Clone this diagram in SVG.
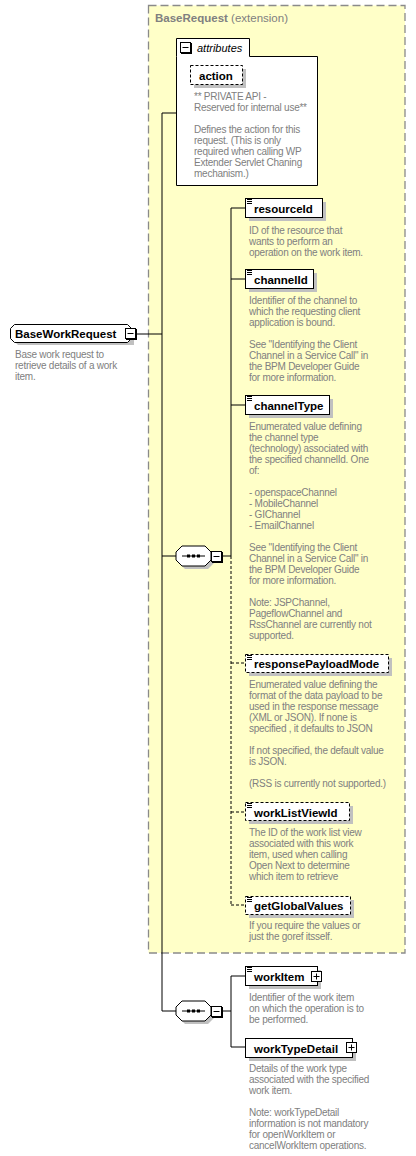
<svg xmlns="http://www.w3.org/2000/svg" width="416" height="1156" viewBox="0 0 416 1156">
<style>
.bg{fill:#ffffff}
.ext{fill:#ffffc8;stroke:#8a8a8a;stroke-width:1.3;stroke-dasharray:8,4}
.box{fill:#ffffff;stroke:#000;stroke-width:1}
.dbox{fill:#ffffff;stroke:#000;stroke-width:1;stroke-dasharray:3,2}
.sh{fill:#c0c0c0}
.ln{fill:none;stroke:#000;stroke-width:1}
.dl{fill:none;stroke:#000;stroke-width:1;stroke-dasharray:3,2}
.nm{font-family:"Liberation Sans",Arial,sans-serif;font-weight:bold;font-size:11.5px;fill:#000}
.ds{font-family:"Liberation Sans",Arial,sans-serif;font-size:10px;letter-spacing:-0.25px;fill:#808080}
.ttl{font-family:"Liberation Sans",Arial,sans-serif;font-size:11.5px;fill:#808080}
.it{font-family:"Liberation Sans",Arial,sans-serif;font-style:italic;font-size:11px;fill:#000}
</style>
<defs>
<g id="lines3"><path d="M0,0.5H5M0,2.5H5M0,4.5H5" stroke="#000" stroke-width="1" fill="none"/></g>
<g id="minus"><rect x="1" y="1" width="11" height="11" fill="#000"/><rect x="0.5" y="0.5" width="10" height="10" fill="#fff" stroke="#000"/><path d="M2.5,5.5H8.5" stroke="#000"/></g>
<g id="plus"><rect x="0.5" y="0.5" width="10" height="10" fill="#fff" stroke="#000"/><path d="M2.5,5.5H8.5M5.5,2.5V8.5" stroke="#000"/></g>
<g id="seq">
<polygon points="9,3 32,3 38,9 38,17 32,23 9,23 3,17 3,9" class="sh"/>
<polygon points="6,0 29,0 35,6 35,14 29,20 6,20 0,14 0,6" fill="#fff" stroke="#000"/>
<path d="M6,10H29" stroke="#000"/>
<rect x="11" y="8.5" width="3" height="3" fill="#000"/><rect x="16" y="8.5" width="3" height="3" fill="#000"/><rect x="21" y="8.5" width="3" height="3" fill="#000"/>
</g>
</defs>
<rect class="bg" x="0" y="0" width="416" height="1156"/>

<g id="extension">
<rect class="ext" x="148.5" y="5.5" width="256.5" height="947.5"/>
<text x="155" y="22" class="ttl"><tspan font-weight="bold">BaseRequest</tspan> (extension)</text>
</g>

<g id="connectors">
<path class="ln" d="M136,334H162M162,113V1011H176M162,113H176M162,556H176"/>
<path class="ln" d="M222,556H231M231,208V556M231,208H245M231,279H245M231,405H245"/>
<path class="dl" d="M231,556V905M231,663H245M231,812H245M231,905H245"/>
<path class="ln" d="M222,1011H231M231,976V1047M231,976H245M231,1047H245"/>
</g>

<g id="attributes">
<path d="M176.5,56.5V38.5H249.5V56.5H317.5V185.5H176.5Z" class="box"/>
<use href="#minus" x="180" y="42"/>
<text x="197" y="52" class="it">attributes</text>
</g>

<g id="action">
<rect class="sh" x="194" y="69" width="52" height="19"/>
<rect class="dbox" x="190.5" y="65.5" width="52" height="19"/>
<text x="199" y="79.5" class="nm">action</text>
<text class="ds" x="194" y="100"><tspan x="194">** PRIVATE API -</tspan><tspan x="194" dy="11">Reserved for internal use**</tspan><tspan x="194" dy="22">Defines the action for this</tspan><tspan x="194" dy="11">request. (This is only</tspan><tspan x="194" dy="11">required when calling WP</tspan><tspan x="194" dy="11">Extender Servlet Chaning</tspan><tspan x="194" dy="11">mechanism.)</tspan></text>
</g>

<g id="BaseWorkRequest">
<polygon class="sh" points="18,328 134,328 134,345 18,345 14,341 14,332"/>
<polygon points="14.5,324.5 127.5,324.5 131.5,328.5 131.5,338.5 127.5,342.5 14.5,342.5 10.5,338.5 10.5,328.5" fill="#fff" stroke="#000"/>
<text x="15" y="338" class="nm">BaseWorkRequest</text>
<use href="#minus" x="125" y="328"/>
<text class="ds" x="15" y="357.5"><tspan x="15">Base work request to</tspan><tspan x="15" dy="11">retrieve details of a work</tspan><tspan x="15" dy="11">item.</tspan></text>
</g>

<g id="sequence1">
<use href="#seq" x="176" y="546"/>
<use href="#minus" x="211" y="551"/>
</g>

<g id="resourceId">
<rect class="sh" x="249" y="202" width="77" height="19"/>
<rect class="box" x="245.5" y="198.5" width="77" height="19"/>
<use href="#lines3" x="247" y="199"/>
<text x="254" y="212.5" class="nm">resourceId</text>
<text class="ds" x="249" y="233.5"><tspan x="249">ID of the resource that</tspan><tspan x="249" dy="11">wants to perform an</tspan><tspan x="249" dy="11">operation on the work item.</tspan></text>
</g>

<g id="channelId">
<rect class="sh" x="249" y="273" width="68" height="19"/>
<rect class="box" x="245.5" y="269.5" width="68" height="19"/>
<use href="#lines3" x="247" y="270"/>
<text x="254" y="283.5" class="nm">channelId</text>
<text class="ds" x="249" y="304"><tspan x="249">Identifier of the channel to</tspan><tspan x="249" dy="11">which the requesting client</tspan><tspan x="249" dy="11">application is bound.</tspan><tspan x="249" dy="22">See "Identifying the Client</tspan><tspan x="249" dy="11">Channel in a Service Call" in</tspan><tspan x="249" dy="11">the BPM Developer Guide</tspan><tspan x="249" dy="11">for more information.</tspan></text>
</g>

<g id="channelType">
<rect class="sh" x="249" y="399" width="84" height="19"/>
<rect class="box" x="245.5" y="395.5" width="84" height="19"/>
<use href="#lines3" x="247" y="396"/>
<text x="254" y="409.5" class="nm">channelType</text>
<text class="ds" x="249" y="430"><tspan x="249">Enumerated value defining</tspan><tspan x="249" dy="11">the channel type</tspan><tspan x="249" dy="11">(technology) associated with</tspan><tspan x="249" dy="11">the specified channelId. One</tspan><tspan x="249" dy="11">of:</tspan><tspan x="249" dy="22">- openspaceChannel</tspan><tspan x="249" dy="11">- MobileChannel</tspan><tspan x="249" dy="11">- GIChannel</tspan><tspan x="249" dy="11">- EmailChannel</tspan><tspan x="249" dy="22">See "Identifying the Client</tspan><tspan x="249" dy="11">Channel in a Service Call" in</tspan><tspan x="249" dy="11">the BPM Developer Guide</tspan><tspan x="249" dy="11">for more information.</tspan><tspan x="249" dy="22">Note: JSPChannel,</tspan><tspan x="249" dy="11">PageflowChannel and</tspan><tspan x="249" dy="11">RssChannel are currently not</tspan><tspan x="249" dy="11">supported.</tspan></text>
</g>

<g id="responsePayloadMode">
<rect class="sh" x="249" y="658" width="143" height="18"/>
<rect class="dbox" x="245.5" y="654.5" width="143" height="18"/>
<use href="#lines3" x="247" y="655"/>
<text x="254" y="668" class="nm">responsePayloadMode</text>
<text class="ds" x="249" y="688"><tspan x="249">Enumerated value defining the</tspan><tspan x="249" dy="11">format of the data payload to be</tspan><tspan x="249" dy="11">used in the response message</tspan><tspan x="249" dy="11">(XML or JSON). If none is</tspan><tspan x="249" dy="11">specified , it defaults to JSON</tspan><tspan x="249" dy="22">If not specified, the default value</tspan><tspan x="249" dy="11">is JSON.</tspan><tspan x="249" dy="22">(RSS is currently not supported.)</tspan></text>
</g>

<g id="workListViewId">
<rect class="sh" x="249" y="806" width="104" height="18"/>
<rect class="dbox" x="245.5" y="802.5" width="104" height="18"/>
<use href="#lines3" x="247" y="803"/>
<text x="254" y="816.5" class="nm">workListViewId</text>
<text class="ds" x="249" y="836"><tspan x="249">The ID of the work list view</tspan><tspan x="249" dy="11">associated with this work</tspan><tspan x="249" dy="11">item, used when calling</tspan><tspan x="249" dy="11">Open Next to determine</tspan><tspan x="249" dy="11">which item to retrieve</tspan></text>
</g>

<g id="getGlobalValues">
<rect class="sh" x="249" y="900" width="105" height="18"/>
<rect class="dbox" x="245.5" y="896.5" width="105" height="18"/>
<use href="#lines3" x="247" y="897"/>
<text x="254" y="909.5" class="nm">getGlobalValues</text>
<text class="ds" x="249" y="929"><tspan x="249">If you require the values or</tspan><tspan x="249" dy="11">just the goref itsself.</tspan></text>
</g>

<g id="sequence2">
<use href="#seq" x="176" y="1001"/>
<use href="#minus" x="211" y="1006"/>
</g>

<g id="workItem">
<rect class="sh" x="249" y="970" width="72" height="19"/>
<rect class="box" x="245.5" y="966.5" width="72" height="19"/>
<use href="#lines3" x="247" y="967"/>
<text x="254" y="980.5" class="nm">workItem</text>
<use href="#plus" x="311" y="971"/>
<text class="ds" x="249" y="1001"><tspan x="249">Identifier of the work item</tspan><tspan x="249" dy="11">on which the operation is to</tspan><tspan x="249" dy="11">be performed.</tspan></text>
</g>

<g id="workTypeDetail">
<rect class="sh" x="249" y="1042" width="107" height="19"/>
<rect class="box" x="245.5" y="1038.5" width="107" height="19"/>
<text x="254" y="1052.5" class="nm">workTypeDetail</text>
<use href="#plus" x="346" y="1042"/>
<text class="ds" x="249" y="1072"><tspan x="249">Details of the work type</tspan><tspan x="249" dy="11">associated with the specified</tspan><tspan x="249" dy="11">work item.</tspan><tspan x="249" dy="22">Note: workTypeDetail</tspan><tspan x="249" dy="11">information is not mandatory</tspan><tspan x="249" dy="11">for openWorkItem or</tspan><tspan x="249" dy="11">cancelWorkItem operations.</tspan></text>
</g>
</svg>
